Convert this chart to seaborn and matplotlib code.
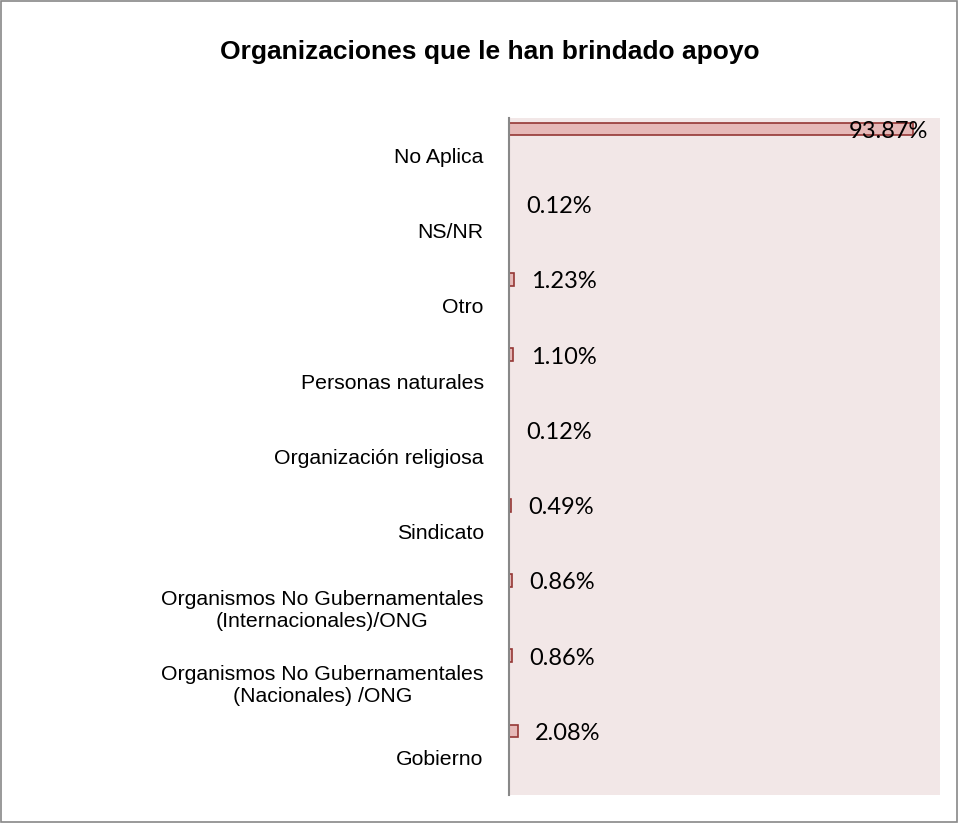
import matplotlib
matplotlib.use('Agg')
import matplotlib.pyplot as plt
import seaborn as sns
import pandas as pd
from matplotlib.patches import Rectangle

# Data (top to bottom)
categories = ['No Aplica', 'NS/NR', 'Otro', 'Personas naturales', 'Organización religiosa',
              'Sindicato', 'Organismos No Gubernamentales\n(Internacionales)/ONG',
              'Organismos No Gubernamentales\n(Nacionales) /ONG', 'Gobierno']
values = [93.87, 0.12, 1.23, 1.10, 0.12, 0.49, 0.86, 0.86, 2.08]
value_labels = ['93.87%', '0.12%', '1.23%', '1.10%', '0.12%', '0.49%', '0.86%', '0.86%', '2.08%']

df = pd.DataFrame({'categoria': categories, 'valor': values})

sns.set_style('white')
plt.rcParams['font.family'] = ['Liberation Sans', 'DejaVu Sans']
plt.rcParams['text.color'] = 'black'
plt.rcParams['ytick.color'] = 'black'
plt.rcParams['ytick.labelcolor'] = 'black'

fig = plt.figure(figsize=(9.58, 8.23), dpi=100)
ax = fig.add_axes([0.531, 0.034, 0.45, 0.823])
ax.set_facecolor('#F2E7E7')

sns.barplot(data=df, x='valor', y='categoria', orient='h', width=0.17,
            color='#E6B9B8', edgecolor='#953735', linewidth=1.2, saturation=1, ax=ax)

# Excel puts the thin bars at the top of each category band
for p in ax.patches:
    p.set_y(p.get_y() - 0.35)

ax.set_xlim(0, 100)
ax.set_ylim(len(categories) - 0.5, -0.5)
ax.set_xticks([])
ax.set_xlabel('')
ax.set_ylabel('')
ax.tick_params(axis='y', length=0, pad=18, labelsize=15.3)
for lbl in ax.get_yticklabels():
    lbl.set_multialignment('center')

for side in ['top', 'right', 'bottom']:
    ax.spines[side].set_visible(False)
ax.spines['left'].set_color('#888888')
ax.spines['left'].set_linewidth(1.5)

# value labels
for i, (v, txt) in enumerate(zip(values, value_labels)):
    if v > 80:
        ax.text(v + 3.5, i - 0.32, txt, ha='right', va='center', fontsize=17, family='Lato')
    else:
        ax.text(v + 4.0, i - 0.32, txt, ha='left', va='center', fontsize=17, family='Lato')

fig.text(0.511, 0.937, 'Organizaciones que le han brindado apoyo', ha='center', va='center',
         fontsize=19, fontweight='bold')

# chart border
fig.patches.append(Rectangle((0.001, 0.001), 0.998, 0.998, transform=fig.transFigure,
                             fill=False, edgecolor='#888888', linewidth=1.2))

fig.savefig('out.png', dpi=100, facecolor='white')
